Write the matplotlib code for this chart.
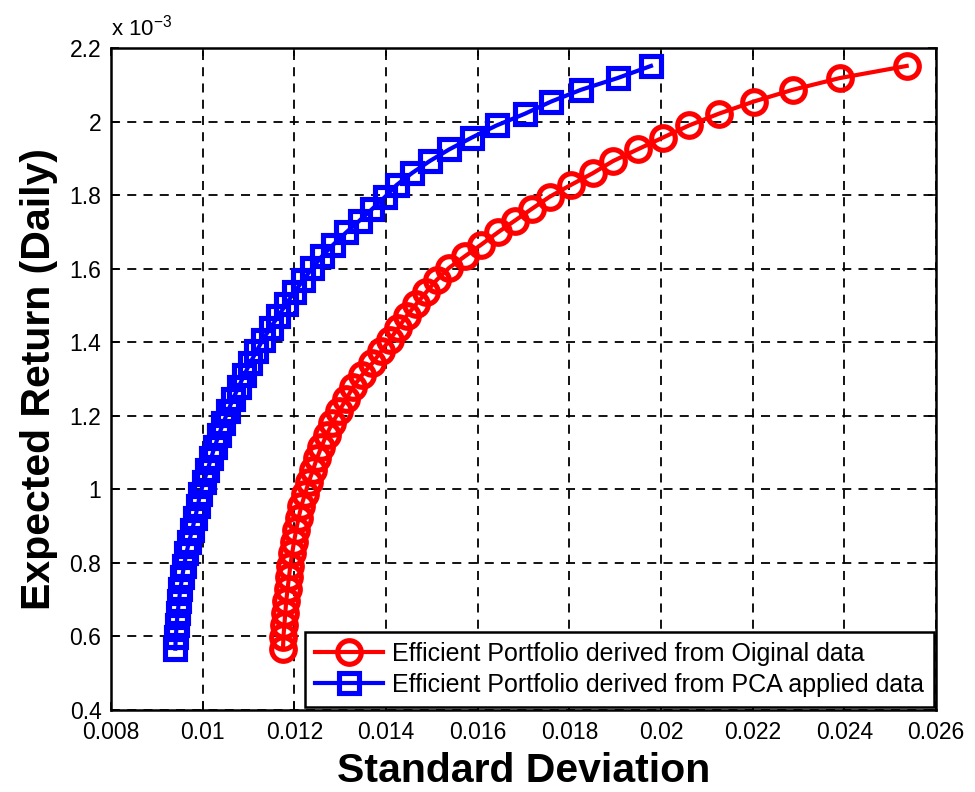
import numpy as np
import matplotlib
matplotlib.use("Agg")
import matplotlib.pyplot as plt
from matplotlib.ticker import FormatStrFormatter

plt.rcParams['font.family'] = ['Liberation Sans', 'DejaVu Sans']

# expected return (x 10^-3), same levels for both frontiers
ret = [0.566, 0.598, 0.631, 0.663, 0.695, 0.728, 0.760, 0.792, 0.825, 0.857,
       0.890, 0.922, 0.954, 0.987, 1.019, 1.051, 1.084, 1.116, 1.148, 1.181,
       1.213, 1.246, 1.278, 1.310, 1.343, 1.375, 1.407, 1.440, 1.472, 1.504,
       1.537, 1.569, 1.602, 1.634, 1.666, 1.699, 1.731, 1.763, 1.796, 1.828,
       1.860, 1.893, 1.925, 1.957, 1.990, 2.022, 2.055, 2.087, 2.119, 2.152]

# std dev - original data
sd_orig = [0.01175, 0.01176, 0.01178, 0.01180, 0.01182, 0.01185, 0.01188, 0.01191, 0.01195, 0.01199,
           0.01204, 0.01209, 0.01215, 0.01223, 0.01231, 0.01240, 0.01249, 0.01259, 0.01270, 0.01283,
           0.01298, 0.01313, 0.01328, 0.01347, 0.01370, 0.01389, 0.01408, 0.01427, 0.01445, 0.01466,
           0.01488, 0.01510, 0.01537, 0.01572, 0.01608, 0.01644, 0.01681, 0.01718, 0.01757, 0.01803,
           0.01851, 0.01895, 0.01949, 0.02004, 0.02061, 0.02126, 0.02202, 0.02287, 0.02390, 0.02536]

# std dev - PCA applied data
sd_pca = [0.00940, 0.00941, 0.00943, 0.00945, 0.00948, 0.00951, 0.00955, 0.00959, 0.00964, 0.00970,
          0.00977, 0.00983, 0.00989, 0.00994, 0.01002, 0.01010, 0.01018, 0.01026, 0.01035, 0.01045,
          0.01055, 0.01066, 0.01078, 0.01090, 0.01103, 0.01117, 0.01131, 0.01148, 0.01165, 0.01182,
          0.01200, 0.01219, 0.01239, 0.01260, 0.01285, 0.01313, 0.01342, 0.01370, 0.01398, 0.01423,
          0.01456, 0.01495, 0.01538, 0.01587, 0.01641, 0.01703, 0.01760, 0.01825, 0.01905, 0.01978]

labels = ['Efficient Portfolio derived from Oiginal data',
          'Efficient Portfolio derived from PCA applied data']

fig = plt.figure(figsize=(9.75, 7.92), dpi=100)
ax = fig.add_axes([0.114, 0.104, 0.846, 0.835])

ax.plot(sd_orig, ret, '-o', color='red', lw=3, ms=17, mew=3.7,
        mfc='none', label=labels[0])
ax.plot(sd_pca, ret, '-s', color='blue', lw=3, ms=15, mew=3.7,
        mfc='none', label=labels[1])

ax.set_xlim(0.008, 0.026)
ax.set_ylim(0.4, 2.2)
ax.set_xticks(np.arange(0.008, 0.0261, 0.002))
ax.set_yticks(np.arange(0.4, 2.21, 0.2))
ax.xaxis.set_major_formatter(FormatStrFormatter('%g'))
ax.yaxis.set_major_formatter(FormatStrFormatter('%g'))

ax.grid(True, color='black', linestyle=(0, (5, 4)), lw=1.3)
ax.tick_params(direction='in', top=True, right=True, length=6, width=1.2,
               labelsize=16.5)
ax.tick_params(axis='x', pad=8)
ax.tick_params(axis='y', pad=7)
for s in ax.spines.values():
    s.set_linewidth(1.8)

ax.set_xlabel('Standard Deviation', fontsize=29.5, fontweight='bold', labelpad=6)
ax.set_ylabel('Expected Return (Daily)', fontsize=29.5, fontweight='bold', labelpad=8)
ax.text(0.0, 1.012, r'x 10$^{\mathregular{-3}}$', transform=ax.transAxes, fontsize=16,
        ha='left', va='bottom')

leg = ax.legend(loc='lower right', fontsize=18, frameon=True, fancybox=False,
                edgecolor='black', framealpha=1, borderaxespad=0.1,
                handlelength=2.7, handletextpad=0.35, borderpad=0.4,
                labelspacing=0.3)
leg.get_frame().set_linewidth(1.8)

fig.savefig('out.png', dpi=100)
